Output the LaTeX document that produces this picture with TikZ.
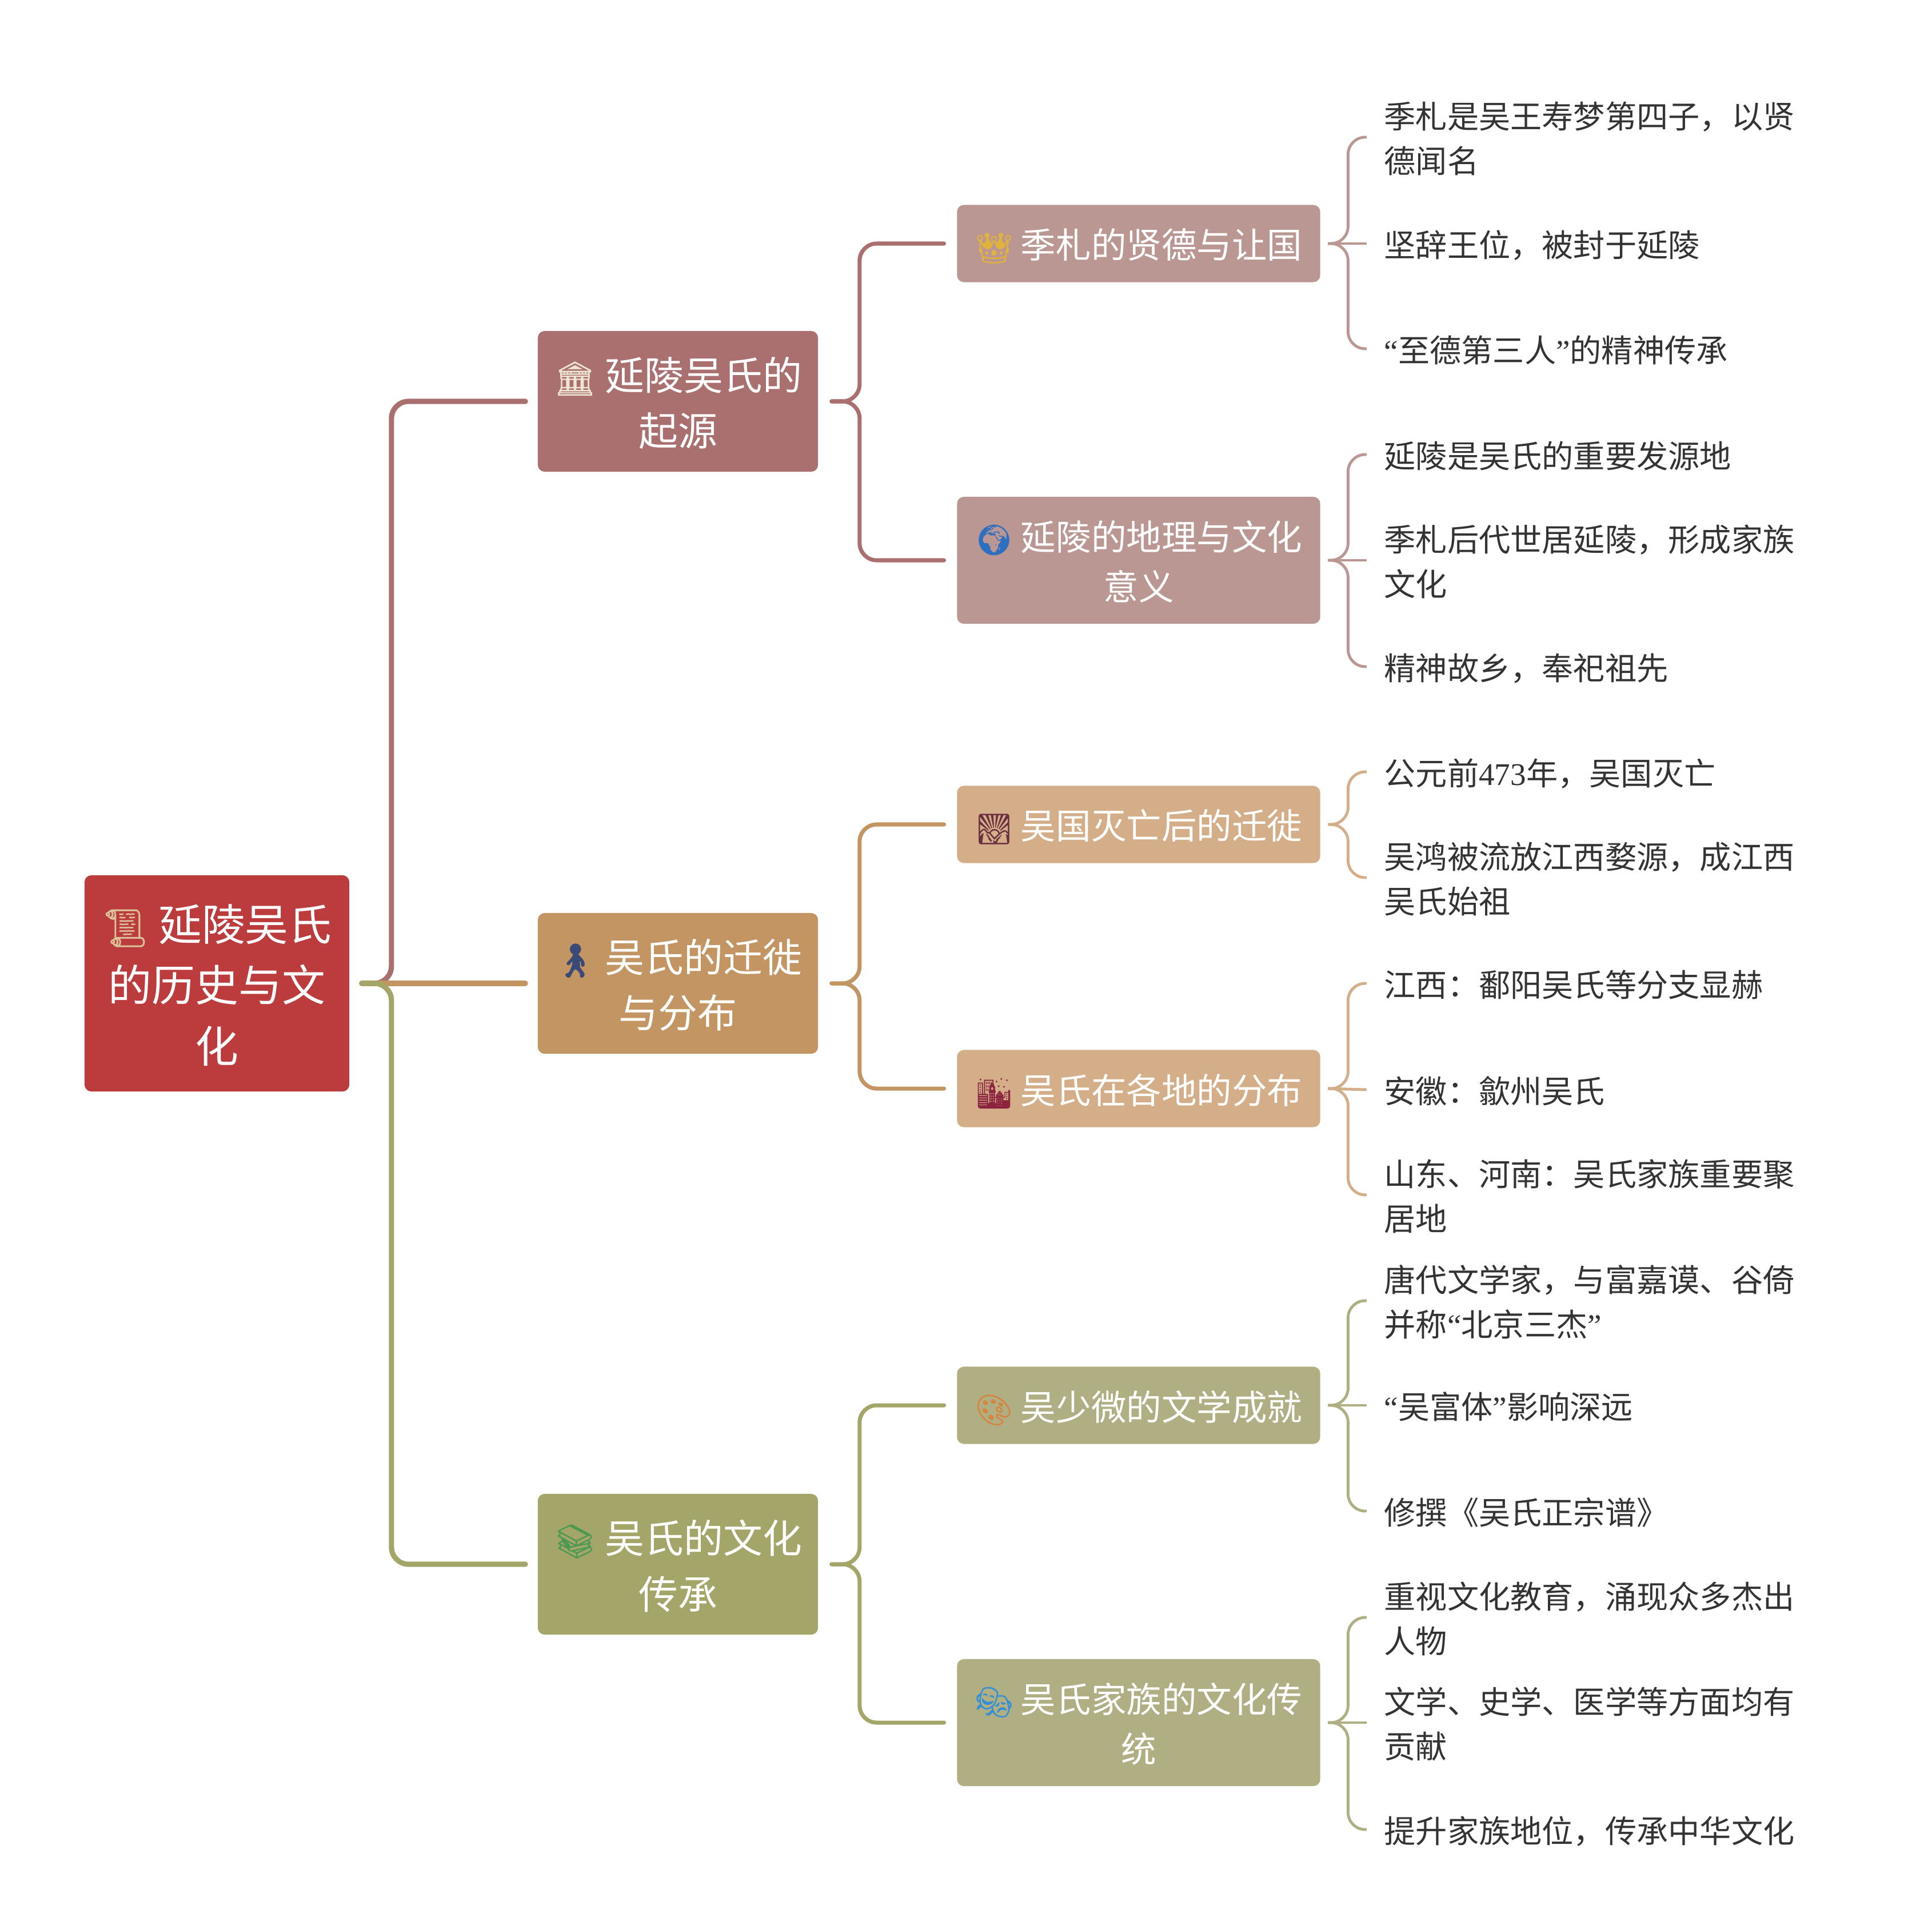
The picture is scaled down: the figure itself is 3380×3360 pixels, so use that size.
\documentclass[tikz,border=0pt]{standalone}
\usepackage{fontspec}
\usepackage{xcolor}
\setmainfont{Noto Sans CJK SC}
\newfontfamily\latinfont{Liberation Serif}
\newfontfamily\emojifont[Scale=0.85,FakeBold=0.6]{Noto Emoji}
\newcommand{\icon}[2]{{\emojifont\color{#1}#2}}
\definecolor{rootred}{HTML}{BC3C3E}
\definecolor{mainred}{HTML}{AA7070}
\definecolor{mainbrown}{HTML}{C39562}
\definecolor{mainolive}{HTML}{A4A569}
\definecolor{subred}{HTML}{BB9793}
\definecolor{subbrown}{HTML}{D4AE88}
\definecolor{subolive}{HTML}{B0AE83}
\definecolor{leaftext}{HTML}{333333}
\definecolor{scroll}{HTML}{DCC39C}
\definecolor{temple}{HTML}{EFE6D2}
\definecolor{walker}{HTML}{3A4A78}
\definecolor{books}{HTML}{4C9A52}
\definecolor{crown}{HTML}{E2B33C}
\definecolor{globe}{HTML}{2F6FC0}
\definecolor{sunset}{HTML}{6B2F3F}
\definecolor{city}{HTML}{8C2440}
\definecolor{palette}{HTML}{D9823A}
\definecolor{masks}{HTML}{2F8FD8}
\tikzset{
  rootbox/.style={text depth=-1pt, fill=rootred, text=white, rounded corners=0.12cm, inner sep=0pt, align=center,
    minimum width=4.63cm, minimum height=3.78cm, font=\fontsize{21.6pt}{30.2pt}\selectfont},
  mainbox/.style={text depth=-1pt, text=white, rounded corners=0.12cm, inner sep=0pt, align=center,
    minimum width=4.9cm, minimum height=2.46cm, font=\fontsize{19.6pt}{27.8pt}\selectfont},
  subbox/.style={text depth=-1pt, text=white, rounded corners=0.12cm, inner sep=0pt, align=center,
    minimum width=6.35cm, font=\fontsize{17.5pt}{24.9pt}\selectfont},
  leaf/.style={text depth=-1pt, anchor=west, inner sep=0pt, align=left, text=leaftext,
    font=\fontsize{15.7pt}{22pt}\selectfont},
  rootline/.style={line width=2.6pt, line cap=round, rounded corners=0.3cm},
  mainline/.style={line width=2pt, line cap=round, rounded corners=0.3cm},
  subline/.style={line width=1.4pt, rounded corners=0.3cm},
}
\begin{document}
\begin{tikzpicture}[x=0.01cm, y=-0.01cm]
\useasboundingbox (0,0) rectangle (3380,3360);

\node[rootbox] (root) at (379.5,1720) {\icon{scroll}{📜} 延陵吴氏\\的历史与文\\化};

\node[mainbox, fill=mainred] (origin) at (1186,702) {\icon{temple}{🏛} 延陵吴氏的\\起源};
\node[mainbox, fill=mainbrown] (migrate) at (1186,1720) {\icon{walker}{🚶} 吴氏的迁徙\\与分布};
\node[mainbox, fill=mainolive] (culture) at (1186,2736) {\icon{books}{📚} 吴氏的文化\\传承};

\node[subbox, fill=subred, minimum height=1.35cm] (virtue) at (1992,426) {\icon{crown}{👑} 季札的贤德与让国};
\node[subbox, fill=subred, minimum height=2.22cm] (place) at (1992,980) {\icon{globe}{🌍} 延陵的地理与文化\\意义};
\node[subbox, fill=subbrown, minimum height=1.35cm] (fall) at (1992,1442) {\icon{sunset}{🌄} 吴国灭亡后的迁徙};
\node[subbox, fill=subbrown, minimum height=1.35cm] (spread) at (1992,1904) {\icon{city}{🌆} 吴氏在各地的分布};
\node[subbox, fill=subolive, minimum height=1.35cm] (writer) at (1992,2458) {\icon{palette}{🎨} 吴少微的文学成就};
\node[subbox, fill=subolive, minimum height=2.22cm] (family) at (1992,3013) {\icon{masks}{🎭} 吴氏家族的文化传\\统};

\node[leaf] (virtue1) at (2421,240) {季札是吴王寿梦第四子，以贤\\德闻名};
\node[leaf] (virtue2) at (2421,426) {坚辞王位，被封于延陵};
\node[leaf] (virtue3) at (2421,610) {{\latinfont “}至德第三人{\latinfont ”}的精神传承};
\node[leaf] (place1) at (2421,795) {延陵是吴氏的重要发源地};
\node[leaf] (place2) at (2421,980) {季札后代世居延陵，形成家族\\文化};
\node[leaf] (place3) at (2421,1166) {精神故乡，奉祀祖先};
\node[leaf] (fall1) at (2421,1350) {公元前{\latinfont 473}年，吴国灭亡};
\node[leaf] (fall2) at (2421,1535) {吴鸿被流放江西婺源，成江西\\吴氏始祖};
\node[leaf] (spread1) at (2421,1720) {江西：鄱阳吴氏等分支显赫};
\node[leaf] (spread2) at (2421,1906) {安徽：歙州吴氏};
\node[leaf] (spread3) at (2421,2090) {山东、河南：吴氏家族重要聚\\居地};
\node[leaf] (writer1) at (2421,2275) {唐代文学家，与富嘉谟、谷倚\\并称{\latinfont “}北京三杰{\latinfont ”}};
\node[leaf] (writer2) at (2421,2458) {{\latinfont “}吴富体{\latinfont ”}影响深远};
\node[leaf] (writer3) at (2421,2643) {修撰《吴氏正宗谱》};
\node[leaf] (family1) at (2421,2829) {重视文化教育，涌现众多杰出\\人物};
\node[leaf] (family2) at (2421,3013) {文学、史学、医学等方面均有\\贡献};
\node[leaf] (family3) at (2421,3200) {提升家族地位，传承中华文化};

\draw[rootline, mainred] ([xshift=2.1mm]root.east) -- ++(52,0) |- ([xshift=-2.1mm]origin.west);
\draw[rootline, mainbrown] ([xshift=2.1mm]root.east) -- ([xshift=-2.1mm]migrate.west);
\draw[rootline, mainolive] ([xshift=2.1mm]root.east) -- ++(52,0) |- ([xshift=-2.1mm]culture.west);

\draw[mainline, mainred] ([xshift=2.3mm]origin.east) -- ++(49,0) |- ([xshift=-2.2mm]virtue.west);
\draw[mainline, mainred] ([xshift=2.3mm]origin.east) -- ++(49,0) |- ([xshift=-2.2mm]place.west);
\draw[mainline, mainbrown] ([xshift=2.3mm]migrate.east) -- ++(49,0) |- ([xshift=-2.2mm]fall.west);
\draw[mainline, mainbrown] ([xshift=2.3mm]migrate.east) -- ++(49,0) |- ([xshift=-2.2mm]spread.west);
\draw[mainline, mainolive] ([xshift=2.3mm]culture.east) -- ++(49,0) |- ([xshift=-2.2mm]writer.west);
\draw[mainline, mainolive] ([xshift=2.3mm]culture.east) -- ++(49,0) |- ([xshift=-2.2mm]family.west);

\draw[subline, subred] ([xshift=1.3mm]virtue.east) -- ++(35,0) |- ([xshift=-3mm]virtue1.west);
\draw[subline, subred] ([xshift=1.3mm]virtue.east) -- ([xshift=-3mm]virtue2.west);
\draw[subline, subred] ([xshift=1.3mm]virtue.east) -- ++(35,0) |- ([xshift=-3mm]virtue3.west);
\draw[subline, subred] ([xshift=1.3mm]place.east) -- ++(35,0) |- ([xshift=-3mm]place1.west);
\draw[subline, subred] ([xshift=1.3mm]place.east) -- ([xshift=-3mm]place2.west);
\draw[subline, subred] ([xshift=1.3mm]place.east) -- ++(35,0) |- ([xshift=-3mm]place3.west);
\draw[subline, subbrown] ([xshift=1.3mm]fall.east) -- ++(35,0) |- ([xshift=-3mm]fall1.west);
\draw[subline, subbrown] ([xshift=1.3mm]fall.east) -- ++(35,0) |- ([xshift=-3mm]fall2.west);
\draw[subline, subbrown] ([xshift=1.3mm]spread.east) -- ++(35,0) |- ([xshift=-3mm]spread1.west);
\draw[subline, subbrown] ([xshift=1.3mm]spread.east) -- ([xshift=-3mm]spread2.west);
\draw[subline, subbrown] ([xshift=1.3mm]spread.east) -- ++(35,0) |- ([xshift=-3mm]spread3.west);
\draw[subline, subolive] ([xshift=1.3mm]writer.east) -- ++(35,0) |- ([xshift=-3mm]writer1.west);
\draw[subline, subolive] ([xshift=1.3mm]writer.east) -- ([xshift=-3mm]writer2.west);
\draw[subline, subolive] ([xshift=1.3mm]writer.east) -- ++(35,0) |- ([xshift=-3mm]writer3.west);
\draw[subline, subolive] ([xshift=1.3mm]family.east) -- ++(35,0) |- ([xshift=-3mm]family1.west);
\draw[subline, subolive] ([xshift=1.3mm]family.east) -- ([xshift=-3mm]family2.west);
\draw[subline, subolive] ([xshift=1.3mm]family.east) -- ++(35,0) |- ([xshift=-3mm]family3.west);
\end{tikzpicture}
\end{document}
